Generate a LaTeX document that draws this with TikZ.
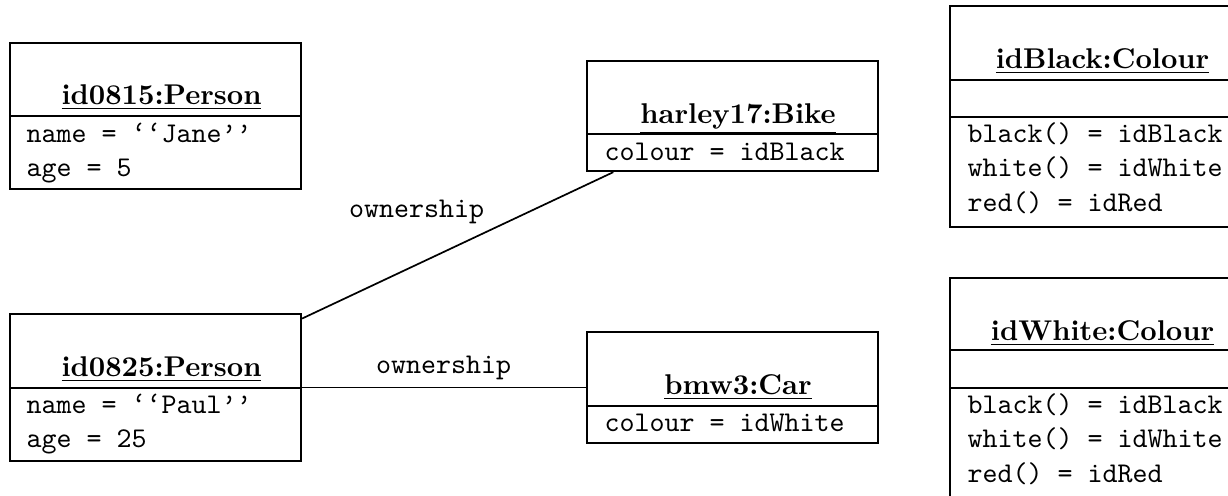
\documentclass[tikz,border=0pt]{standalone}
\usetikzlibrary{fit}
\begin{document}
\begin{tikzpicture}[x=0.35pt,y=-0.35pt,
  objbox/.style={draw,line width=0.8pt,inner sep=0pt,rectangle},
  divline/.style={line width=0.8pt},
  assoc/.style={line width=0.6pt},
  objtitle/.style={inner sep=0pt,anchor=base,font=\bfseries},
  attr/.style={inner sep=0pt,anchor=base west,font=\ttfamily},
  asslabel/.style={inner sep=0pt,anchor=base,font=\ttfamily}]
\useasboundingbox (0,0) rectangle (1228,495);
\clip (0,0) rectangle (1228,495);

% id0815:Person
\coordinate (p1a) at (10,43); \coordinate (p1b) at (301,189);
\node[objbox,fit=(p1a)(p1b)] (p1) {};
\draw[divline] (10,116) -- (301,116);
\node[objtitle] (p1t) at (161.5,104) {\underline{id0815:Person}};
\node[attr] (p1n) at (26,142) {name = \textquoteleft\textquoteleft Jane\textquoteright\textquoteright};
\node[attr] (p1g) at (26,176) {age = 5};

% id0825:Person
\coordinate (p2a) at (10,314); \coordinate (p2b) at (301,461);
\node[objbox,fit=(p2a)(p2b)] (p2) {};
\draw[divline] (10,388) -- (301,388);
\node[objtitle] (p2t) at (161.5,376) {\underline{id0825:Person}};
\node[attr] (p2n) at (26,413) {name = \textquoteleft\textquoteleft Paul\textquoteright\textquoteright};
\node[attr] (p2g) at (26,447) {age = 25};

% harley17:Bike
\coordinate (b1a) at (587,61); \coordinate (b1b) at (878,171);
\node[objbox,fit=(b1a)(b1b)] (bike) {};
\draw[divline] (587,134) -- (878,134);
\node[objtitle] (biket) at (738,123) {\underline{harley17:Bike}};
\node[attr] (bikec) at (604,160) {colour = idBlack};

% bmw3:Car
\coordinate (c1a) at (587,332); \coordinate (c1b) at (878,443);
\node[objbox,fit=(c1a)(c1b)] (car) {};
\draw[divline] (587,406) -- (878,406);
\node[objtitle] (cart) at (738,394) {\underline{bmw3:Car}};
\node[attr] (carc) at (604,431) {colour = idWhite};

% idBlack:Colour
\coordinate (k1a) at (950,6); \coordinate (k1b) at (1243,227);
\node[objbox,fit=(k1a)(k1b)] (black) {};
\draw[divline] (950,80) -- (1243,80);
\draw[divline] (950,117) -- (1243,117);
\node[objtitle] (blackt) at (1102.5,68) {\underline{idBlack:Colour}};
\node[attr] (black1) at (967,142) {black() = idBlack};
\node[attr] (black2) at (967,176.5) {white() = idWhite};
\node[attr] (black3) at (967,211) {red() = idRed};

% idWhite:Colour
\coordinate (w1a) at (950,278); \coordinate (w1b) at (1243,500);
\node[objbox,fit=(w1a)(w1b)] (white) {};
\draw[divline] (950,350) -- (1243,350);
\draw[divline] (950,388) -- (1243,388);
\node[objtitle] (whitet) at (1102.5,340) {\underline{idWhite:Colour}};
\node[attr] (white1) at (967,413) {black() = idBlack};
\node[attr] (white2) at (967,447.5) {white() = idWhite};
\node[attr] (white3) at (967,482) {red() = idRed};

% associations
\draw[assoc] (p2) -- (bike);
\draw[assoc] (p2) -- (car);
\node[asslabel] (own1) at (416.5,217) {ownership};
\node[asslabel] (own2) at (443.5,373) {ownership};
\end{tikzpicture}
\end{document}
